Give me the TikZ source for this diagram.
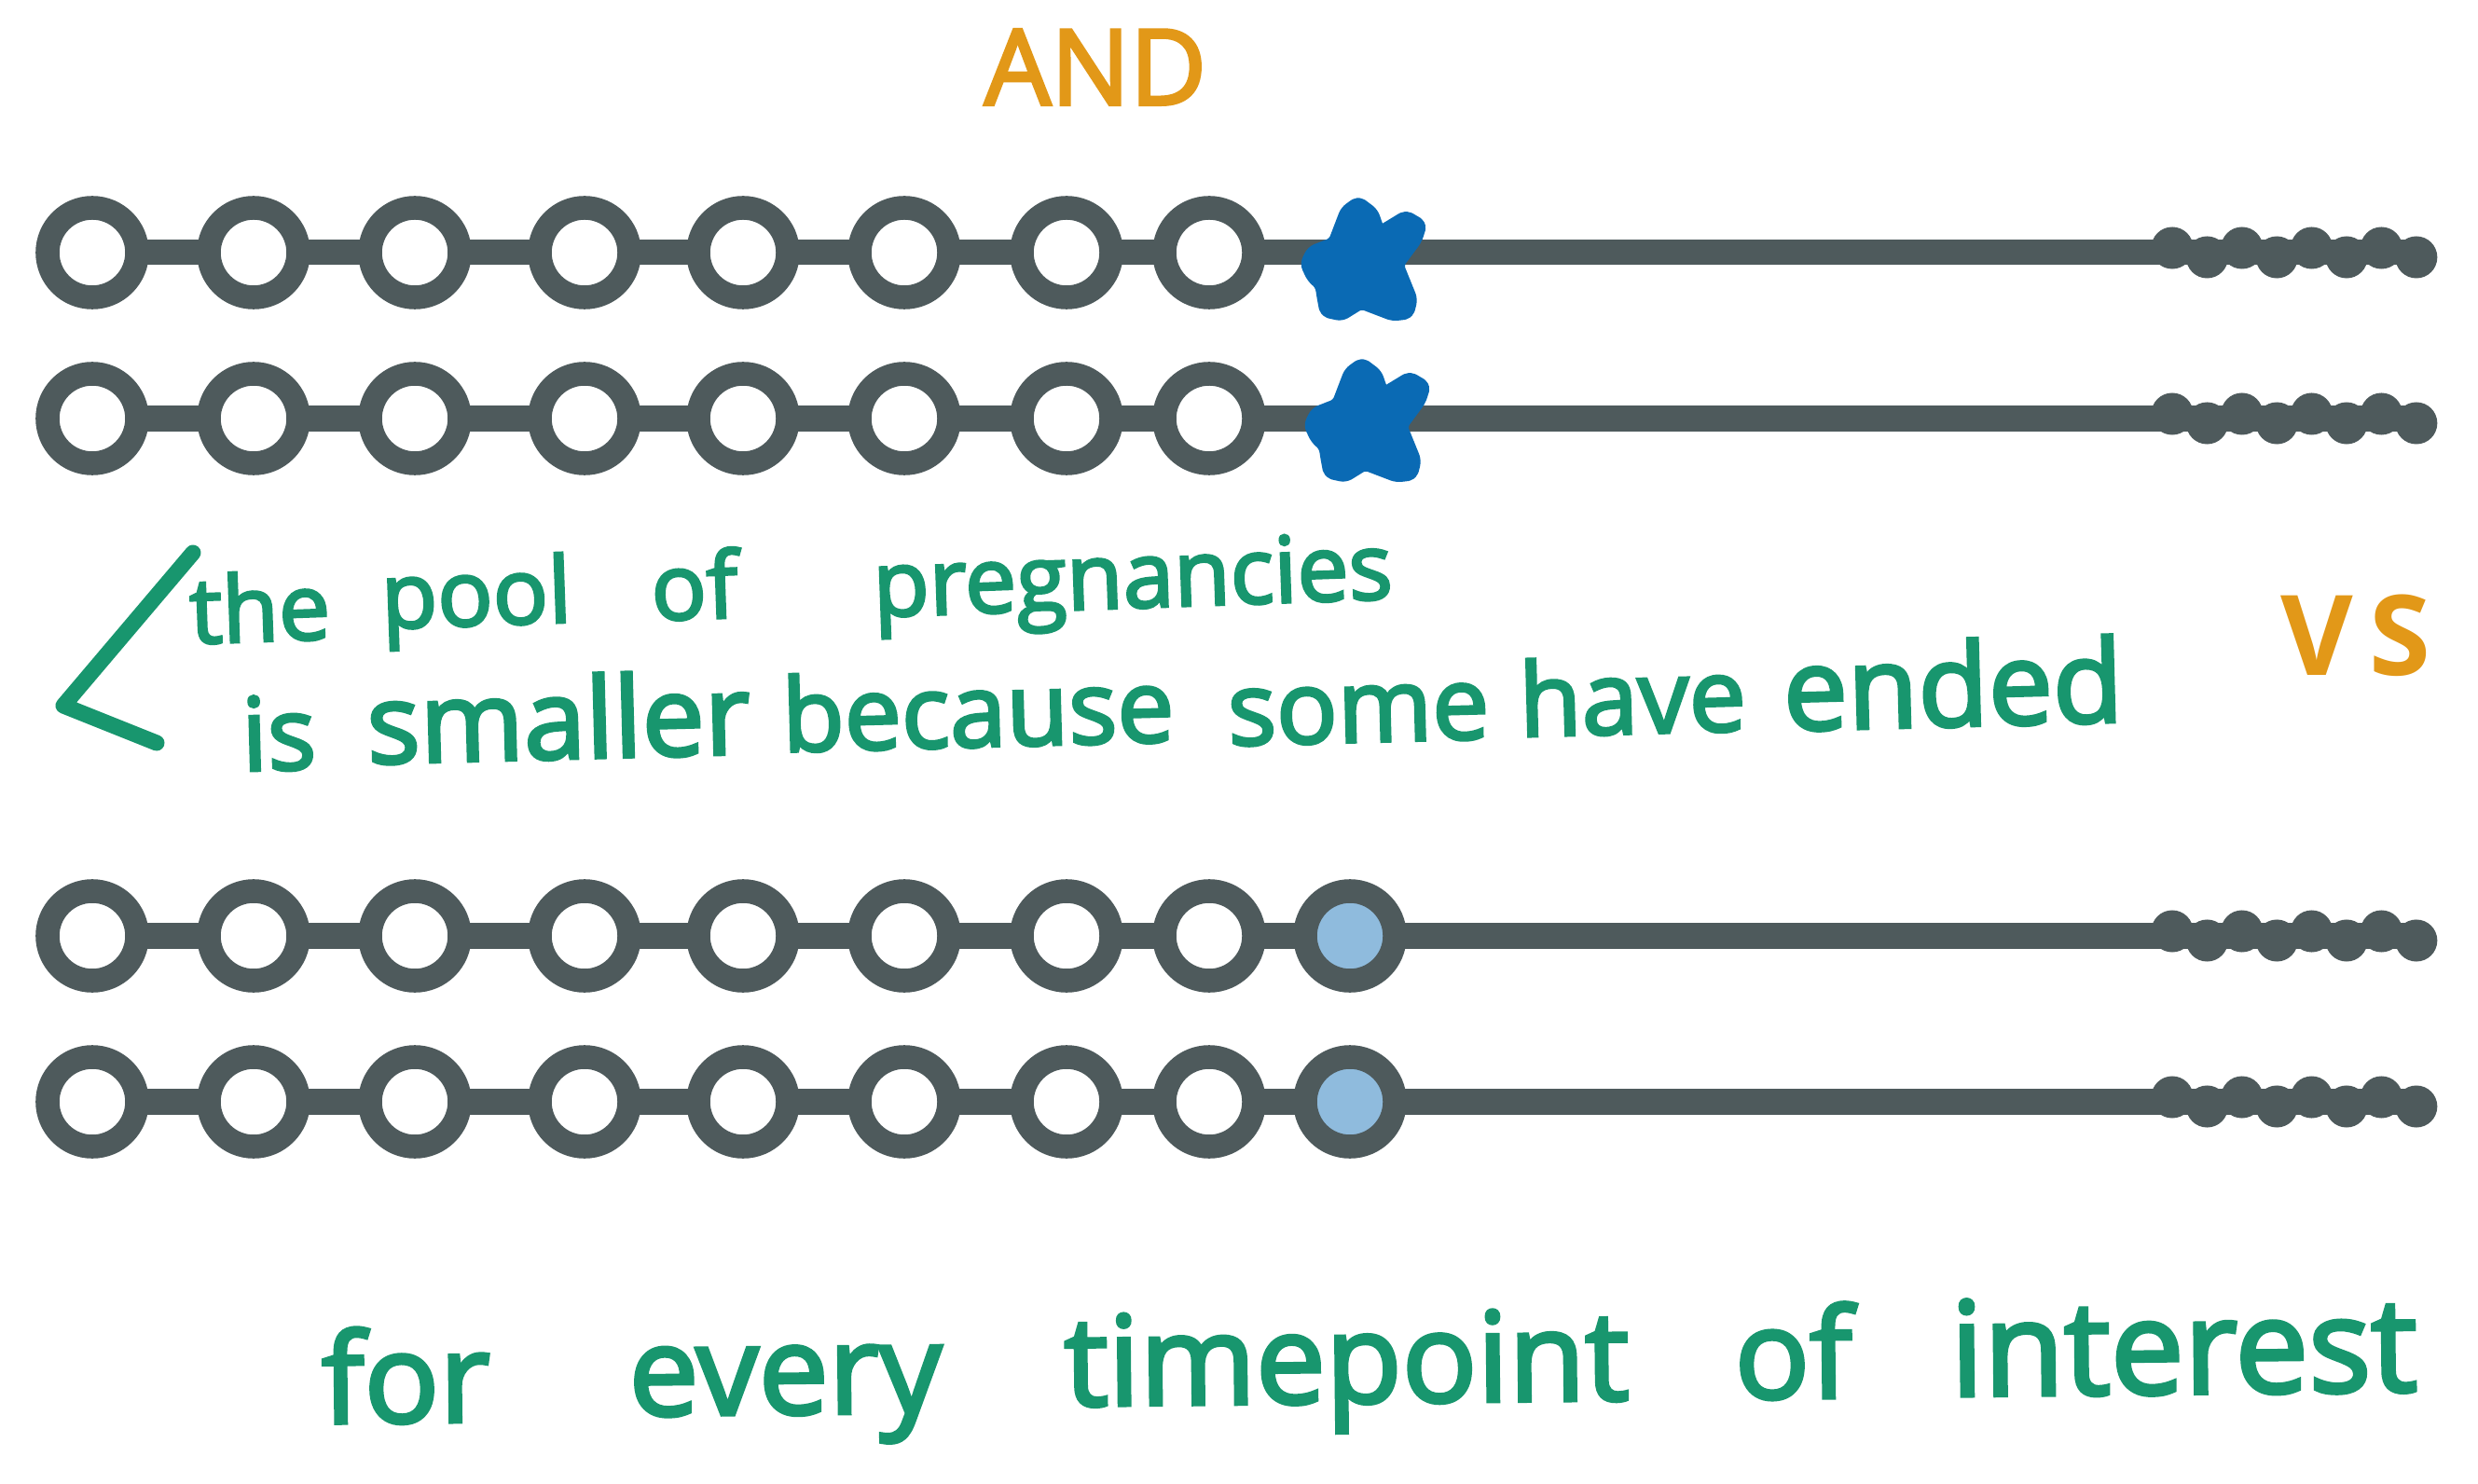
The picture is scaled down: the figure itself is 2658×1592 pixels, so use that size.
\documentclass[tikz,border=0pt]{standalone}
\usepackage{fontspec}
\setmainfont{Open Sans}
\newfontfamily\penfont[FakeBold=3]{Open Sans}

\definecolor{chain}{RGB}{78,90,92}
\definecolor{eventblue}{RGB}{10,106,180}
\definecolor{nowblue}{RGB}{143,187,221}
\definecolor{notegreen}{RGB}{24,150,110}
\definecolor{labelorange}{RGB}{226,152,24}

\pgfdeclarelayer{paper}
\pgfdeclarelayer{bg}
\pgfsetlayers{paper,bg,main}

% hand-drawn five-pointed star centred on a named coordinate
\newcommand\handstar[1]{%
  \filldraw[eventblue, line width=0.11cm, line join=round, rounded corners=0.05cm,
            shift={(#1)}]
    (-19,-56) -- (-5,-66) -- (11,-54) -- (18,-34)
    -- (46,-51) -- (63,-41) -- (58,-25) -- (38,2)
    -- (53,39) -- (49,55) -- (32,57) -- (-2,44)
    -- (-23,57) -- (-41,53) -- (-44,37) -- (-46,24)
    -- (-55,16) -- (-62,1) -- (-55,-13) -- (-32,-22) -- cycle;}

% scalloped, frayed end of a chain starting at a named coordinate
\newcommand\frayend[1]{%
  \foreach \k in {0,...,7} {
    \pgfmathsetmacro\dy{mod(\k,2)==0 ? -5 : 5}
    \fill[chain, shift={(#1)}] (37.4*\k, \dy) circle (0.225cm);
  }}

\tikzset{
  visit/.style={circle, draw=chain, fill=white, line width=0.255cm,
                minimum size=0.96cm, inner sep=0pt},
  current/.style={visit, fill=nowblue},
  chainline/.style={draw=chain, line width=0.27cm},
  hand/.style={text=notegreen, anchor=base, inner sep=0pt},
  tag/.style={text=labelorange, inner sep=0pt},
}

\begin{document}
\begin{tikzpicture}[x=0.01cm, y=-0.01cm]
\useasboundingbox (0,0) rectangle (2658,1592);
\begin{pgfonlayer}{paper}
  \fill[white] (0,0) rectangle (2658,1592);
\end{pgfonlayer}

% four chains of visits
\foreach \r/\y in {1/271, 2/449, 3/1004, 4/1182} {
  \foreach \i/\x in {1/99,2/272,3/445,4/627,5/797,6/970,7/1144,8/1297}
    \node[visit] (c\r-\i) at (\x,\y) {};
  \coordinate (wa\r) at (2330,\y);
  \coordinate (wb\r) at (2592,\y);
}
\node[current] (c3-9) at (1448,1004) {};
\node[current] (c4-9) at (1448,1182) {};
\coordinate (s1) at (1462,282);
\coordinate (s2) at (1466,455);

\begin{pgfonlayer}{bg}
  \foreach \r in {1,...,4} {
    \foreach \i [count=\j from 2] in {1,...,7}
      \draw[chainline] (c\r-\i.center) -- (c\r-\j.center);
  }
  \draw[chainline] (c1-8.center) -- (wb1);
  \draw[chainline] (c2-8.center) -- (wb2);
  \draw[chainline] (c3-8.center) -- (c3-9.center) -- (wb3);
  \draw[chainline] (c4-8.center) -- (c4-9.center) -- (wb4);
\end{pgfonlayer}

\foreach \r in {1,...,4} { \frayend{wa\r} }

\handstar{s1}
\handstar{s2}

% labels
\node[tag, font=\penfont\fontsize{32}{34}\selectfont] (and) at (1175,72) {AND};
\node[tag, font=\bfseries\fontsize{34}{36}\selectfont] (vs) at (2527,682) {V\hspace{0.15em}S};

% note with its bracket
\draw[notegreen, line width=0.17cm, line cap=round, line join=round]
  (207,593) -- (68,757) -- (168,797);
\begin{scope}[every node/.style={hand, rotate=2, font=\penfont\fontsize{28}{30}\selectfont}]
  \node (n1) at (280,688) {the};
  \node (n2) at (512,671) {pool};
  \node (n3) at (746,664) {of};
  \node (n4) at (1216,652) {pregnancies};
\end{scope}
\begin{scope}[every node/.style={hand, rotate=1.5, font=\penfont\fontsize{31}{33}\selectfont}]
  \node (m1) at (300,826) {is};
  \node[font=\penfont\fontsize{34}{36}\selectfont] (m2) at (600,814) {smaller};
  \node (m3) at (1050,801) {because};
  \node (m4) at (1458,796) {some};
  \node (m5) at (1752,787) {have};
  \node[font=\penfont\fontsize{35}{37}\selectfont] (m6) at (2096,779) {ended};
\end{scope}
\begin{scope}[every node/.style={hand, rotate=0.6, font=\penfont\fontsize{38}{40}\selectfont}]
  \node (b1) at (436,1526) {for};
  \node (b2) at (843,1517) {every};
  \node (b3) at (1445,1505) {timepoint};
  \node (b4) at (1924,1500) {of};
  \node[font=\penfont\fontsize{40}{42}\selectfont] (b5) at (2343,1495) {interest};
\end{scope}
\end{tikzpicture}
\end{document}
